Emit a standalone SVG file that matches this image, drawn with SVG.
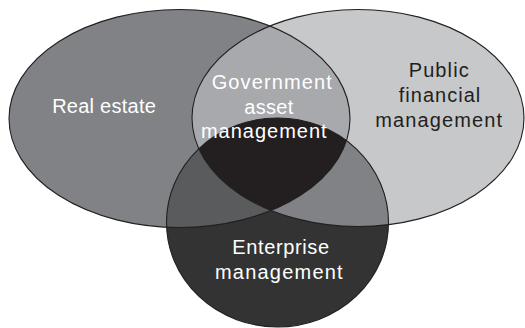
<svg xmlns="http://www.w3.org/2000/svg" width="525" height="328" viewBox="0 0 525 328">
  <defs>
    <style>
      .lbl { font-family: "Liberation Sans", Arial, sans-serif; font-size: 20px; text-anchor: middle; }
      .w { fill: #ffffff; }
      .k { fill: #231f20; }
      .outline { fill: none; stroke: #231f20; stroke-width: 1.1; }
    </style>
    <ellipse id="shapeA" cx="179.5" cy="118.5" rx="170.5" ry="109"/>
    <ellipse id="shapeB" cx="358" cy="118" rx="166" ry="108.5"/>
    <ellipse id="shapeC" cx="277.5" cy="222.5" rx="111" ry="104.5"/>
    <clipPath id="clipA"><use href="#shapeA"/></clipPath>
    <clipPath id="clipB"><use href="#shapeB"/></clipPath>
    <clipPath id="clipC"><use href="#shapeC"/></clipPath>
  </defs>
  <rect width="525" height="328" fill="#ffffff"/>

  <g id="real-estate">
    <use href="#shapeA" fill="#808285"/>
  </g>
  <g id="public-financial-management">
    <use href="#shapeB" fill="#c7c8ca"/>
  </g>
  <g id="enterprise-management">
    <use href="#shapeC" fill="#333334"/>
  </g>
  <g id="overlaps">
    <g id="government-asset-management" clip-path="url(#clipA)">
      <use href="#shapeB" fill="#a7a9ac"/>
    </g>
    <g clip-path="url(#clipA)">
      <use href="#shapeC" fill="#5a5b5d"/>
    </g>
    <g clip-path="url(#clipB)">
      <use href="#shapeC" fill="#808285"/>
    </g>
    <g clip-path="url(#clipA)">
      <g clip-path="url(#clipB)">
        <use href="#shapeC" fill="#231f20"/>
      </g>
    </g>
  </g>
  <g id="outlines">
    <use href="#shapeA" class="outline"/>
    <use href="#shapeB" class="outline"/>
    <use href="#shapeC" class="outline"/>
  </g>
  <g id="labels">
    <text class="lbl w" x="104" y="113" textLength="103.7" lengthAdjust="spacing">Real estate</text>
    <text class="lbl w" x="271.7" y="89" textLength="120" lengthAdjust="spacing">Government</text>
    <text class="lbl w" x="268.8" y="114" textLength="49" lengthAdjust="spacing">asset</text>
    <text class="lbl w" x="263.8" y="138" textLength="125.7" lengthAdjust="spacing">management</text>
    <text class="lbl k" x="438.7" y="77" textLength="60" lengthAdjust="spacing">Public</text>
    <text class="lbl k" x="439.5" y="102" textLength="81.6" lengthAdjust="spacing">financial</text>
    <text class="lbl k" x="438.7" y="127" textLength="126.7" lengthAdjust="spacing">management</text>
    <text class="lbl w" x="280.7" y="254" textLength="96.7" lengthAdjust="spacing">Enterprise</text>
    <text class="lbl w" x="278.8" y="279" textLength="127.7" lengthAdjust="spacing">management</text>
  </g>
</svg>
